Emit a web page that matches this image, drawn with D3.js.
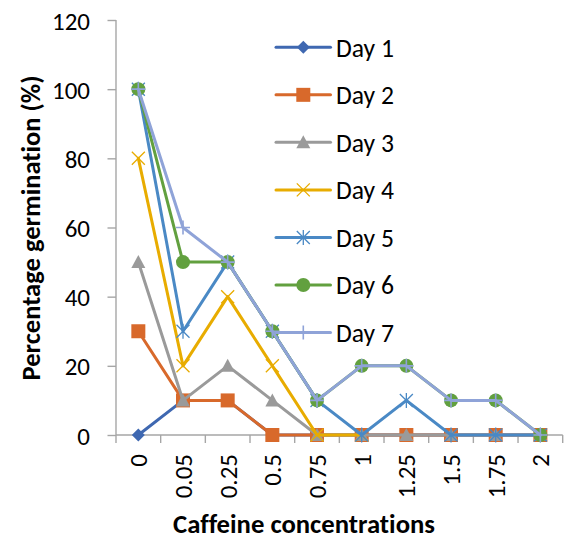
<!DOCTYPE html>
<html><head><meta charset="utf-8">
<script src="https://cdn.jsdelivr.net/npm/d3@7"></script>
<style>body{margin:0;background:#fff}svg{display:block}text{font-family:Carlito,Lato,"Liberation Sans",sans-serif;fill:#000;font-variant-ligatures:none;font-feature-settings:"liga" 0}</style>
</head><body><div id="chart"></div>
<script>
const categories = ["0","0.05","0.25","0.5","0.75","1","1.25","1.5","1.75","2"];
const seriesNames = ["Day 1","Day 2","Day 3","Day 4","Day 5","Day 6","Day 7"];
const day1 = [0,10,10,0,0,0,0,0,0,0];
const day2 = [30,10,10,0,0,0,0,0,0,0];
const day3 = [50,10,20,10,0,0,0,0,0,0];
const day4 = [80,20,40,20,0,0,null,null,null,null];
const day5 = [100,30,50,30,10,0,10,0,0,0];
const day6 = [100,50,50,30,10,20,20,10,10,0];
const day7 = [100,60,50,30,10,20,20,10,10,0];
const yTicks = [0,20,40,60,80,100,120];
const colors = ["#3F68B1","#D8692B","#9A9A9A","#E8AC00","#4A89C5","#62A03F","#8FA3D8"];
const markers = ["diamond","square","triangle","x","star","circle","plus"];
const allSeries = [day1,day2,day3,day4,day5,day6,day7];

const W=566,H=541;
const svg=d3.select("#chart").append("svg").attr("width",W).attr("height",H);
const x=d3.scaleBand().domain(categories).range([116,562.7]);
const y=d3.scaleLinear().domain([0,120]).range([435,20]);
const cx=c=>x(c)+x.bandwidth()/2;

function fit(sel,target){const n=sel.node();const base=20;sel.style("font-size",base+"px");const w=n.getComputedTextLength();sel.style("font-size",(base*target/w).toFixed(2)+"px");}

// axes
const axisColor="#A6A6A6";
const yAxis=svg.append("g").attr("transform","translate(116,0)")
  .call(d3.axisLeft(y).tickValues(yTicks).tickSize(8.5).tickPadding(17).tickFormat(d3.format("d")));
const xAxis=svg.append("g").attr("transform","translate(0,435)")
  .call(d3.axisBottom(x).tickSize(0).tickFormat(""));
[yAxis,xAxis].forEach(g=>{g.select(".domain").attr("stroke",axisColor).attr("stroke-width",1.4);g.selectAll(".tick line").attr("stroke",axisColor).attr("stroke-width",1.4);});
yAxis.select(".domain").attr("d","M0,20V435");
// x ticks at band boundaries
const bounds=categories.map(c=>x(c)).concat([x.range()[1]]);
svg.append("g").selectAll("line").data(bounds).join("line")
  .attr("x1",d=>d).attr("x2",d=>d).attr("y1",435).attr("y2",443)
  .attr("stroke",axisColor).attr("stroke-width",1.4);
xAxis.select(".domain").attr("d","M116,0H562.7");

// y tick labels
yAxis.selectAll(".tick text").attr("fill","#000").attr("font-family",null);
let tickSize=null;
yAxis.selectAll(".tick text").each(function(d){if(d===120){fit(d3.select(this),38);tickSize=d3.select(this).style("font-size");}});
yAxis.selectAll(".tick text").style("font-size",tickSize).attr("dy","0.36em").attr("x",-26);

// x tick labels rotated
svg.append("g").selectAll("text").data(categories).join("text")
  .attr("transform",d=>`translate(${cx(d)},454) rotate(-90)`)
  .attr("text-anchor","end").attr("dy","0.36em").style("font-size",tickSize).text(d=>d);

// titles
const xt=svg.append("text").attr("x",304).attr("y",533).attr("text-anchor","middle")
  .attr("font-weight","bold").text("Caffeine concentrations");
fit(xt,262);
const yt=svg.append("text").attr("transform","translate(30,228) rotate(-90)").attr("text-anchor","middle")
  .attr("dy","0.36em").attr("font-weight","bold").text("Percentage germination (%)");
fit(yt,305);

function markerPath(type){
  switch(type){
    case "diamond":{const r=6.5;return `M0,${-r}L${r},0L0,${r}L${-r},0Z`;}
    case "square":{const r=7;return `M${-r},${-r}H${r}V${r}H${-r}Z`;}
    case "triangle":{return `M0,-7L7,6H-7Z`;}
    case "x":{const r=6.5;return `M${-r},${-r}L${r},${r}M${r},${-r}L${-r},${r}`;}
    case "star":{const r=6.5;return `M${-r},${-r}L${r},${r}M${r},${-r}L${-r},${r}M0,${-r-1}V${r+1}`;}
    case "circle":{const r=7;return `M${r},0A${r},${r} 0 1,1 ${-r},0A${r},${r} 0 1,1 ${r},0Z`;}
    case "plus":{const r=7;return `M${-r},0H${r}M0,${-r}V${r}`;}
  }
}
const filled=t=>["diamond","square","triangle","circle"].includes(t);
function drawMarker(g,type,color,px,py){
  const p=g.append("path").attr("d",markerPath(type)).attr("transform",`translate(${px},${py})`);
  if(filled(type)) p.attr("fill",color).attr("stroke","none");
  else p.attr("fill","none").attr("stroke",color).attr("stroke-width",type==="plus"?1.6:1.3);
}

const line=d3.line().defined(d=>d.v!==null).x(d=>cx(d.c)).y(d=>y(d.v));
const plot=svg.append("g");
allSeries.forEach((vals,i)=>{
  const pts=categories.map((c,j)=>({c,v:vals[j]}));
  const g=plot.append("g");
  g.append("path").datum(pts).attr("d",line).attr("fill","none").attr("stroke",colors[i])
    .attr("stroke-width",3).attr("stroke-linejoin","round").attr("stroke-linecap","round");
  pts.filter(p=>p.v!==null).forEach(p=>drawMarker(g,markers[i],colors[i],cx(p.c),y(p.v)));
});

// legend
const legY=d3.scaleLinear().domain([0,6]).range([47.3,332.5]);
const leg=svg.append("g");
let legSize=null;
seriesNames.forEach((name,i)=>{
  const ly=legY(i);
  leg.append("line").attr("x1",276).attr("x2",330.5).attr("y1",ly).attr("y2",ly)
    .attr("stroke",colors[i]).attr("stroke-width",3).attr("stroke-linecap","round");
  drawMarker(leg,markers[i],colors[i],303.3,ly);
  const t=leg.append("text").attr("x",336).attr("y",ly).attr("dy","0.36em").text(name);
  if(i===0){fit(t,58);legSize=t.style("font-size");}
  t.style("font-size",legSize);
});
</script></body></html>
